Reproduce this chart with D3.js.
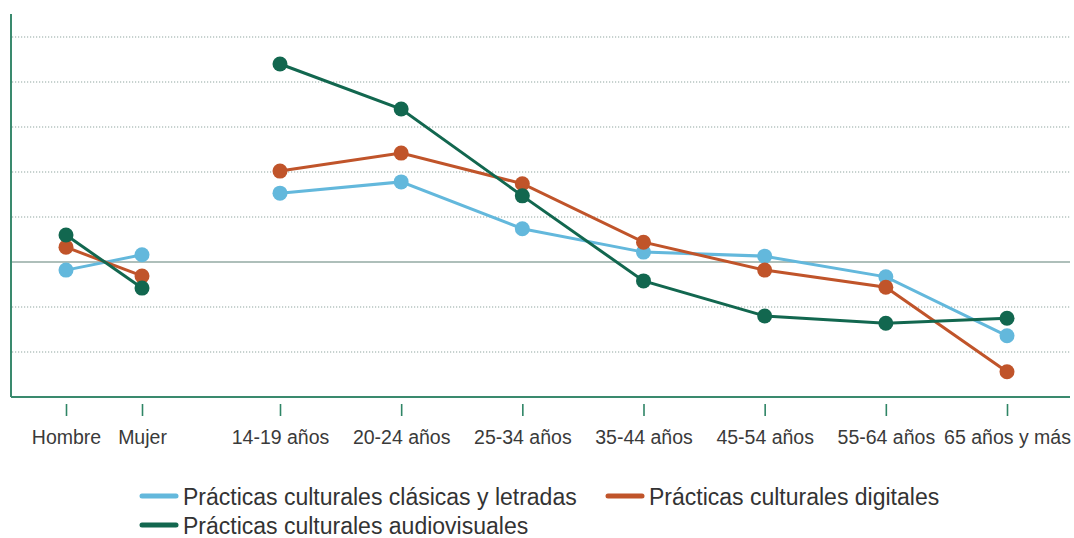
<!DOCTYPE html>
<html>
<head>
<meta charset="utf-8">
<script src="https://cdn.jsdelivr.net/npm/d3@7"></script>
<style>
  html, body { margin: 0; padding: 0; background: #fff; }
  svg { display: block; font-family: "Liberation Sans", Arial, Helvetica, sans-serif; }
</style>
</head>
<body>
<svg id="chart" width="1074" height="538"></svg>
<script>
// Categories: two by sex, seven age groups
const sexCategories = ["Hombre", "Mujer"];
const ageCategories = ["14-19 años", "20-24 años", "25-34 años", "35-44 años", "45-54 años", "55-64 años", "65 años y más"];
const categories = sexCategories.concat(ageCategories);

// Index values relative to the mean (0 = average), one per category
const clasicas      = [-0.18,  0.16, 1.53, 1.78, 0.74,  0.22,  0.13, -0.33, -1.64];
const digitales     = [ 0.33, -0.31, 2.02, 2.42, 1.74,  0.44, -0.18, -0.56, -2.44];
const audiovisuales = [ 0.60, -0.58, 4.40, 3.40, 1.47, -0.42, -1.20, -1.36, -1.25];

const seriesNames = [
  "Prácticas culturales clásicas y letradas",
  "Prácticas culturales digitales",
  "Prácticas culturales audiovisuales"
];
const seriesColors = ["#63b8dc", "#c0542a", "#12674f"];

const gridValues = [-2, -1, 1, 2, 3, 4, 5];

const series = [clasicas, digitales, audiovisuales].map((vals, i) => ({
  name: seriesNames[i],
  color: seriesColors[i],
  points: vals.map((v, j) => ({ cat: categories[j], v, group: j < sexCategories.length ? "sex" : "age" }))
}));

const svg = d3.select("#chart");
const plotLeft = 11, plotRight = 1070, plotTop = 14, plotBottom = 397;

// Horizontal placement: sex and age groups each spread on their own point scale
const xSex = d3.scalePoint().domain(sexCategories).range([66, 142]);
const xAge = d3.scalePoint().domain(ageCategories).range([280, 1007]);
const x = d3.scaleOrdinal()
  .domain(categories)
  .range(categories.map(c => sexCategories.includes(c) ? xSex(c) : xAge(c)));

const y = d3.scaleLinear().domain([-3, 5.511]).range([plotBottom, plotTop]);

// Dotted gridlines
svg.append("g").selectAll("line").data(gridValues).join("line")
  .attr("x1", plotLeft + 1).attr("x2", plotRight)
  .attr("y1", d => y(d)).attr("y2", d => y(d))
  .attr("stroke", "#8fa59f").attr("stroke-width", 1.2)
  .attr("stroke-dasharray", "1.2,1.8");

// Zero reference line
svg.append("line")
  .attr("x1", plotLeft + 1).attr("x2", plotRight)
  .attr("y1", y(0)).attr("y2", y(0))
  .attr("stroke", "#93aaa3").attr("stroke-width", 1.6);

// Frame: left and bottom axis lines
svg.append("line")
  .attr("x1", plotLeft).attr("x2", plotLeft).attr("y1", plotTop).attr("y2", plotBottom)
  .attr("stroke", "#3a8a6e").attr("stroke-width", 2);
svg.append("line")
  .attr("x1", plotLeft).attr("x2", plotRight).attr("y1", plotBottom).attr("y2", plotBottom)
  .attr("stroke", "#3a8a6e").attr("stroke-width", 2);

// Category axis with detached tick marks
const xAxis = d3.axisBottom(x).tickSize(12).tickPadding(14);
const gx = svg.append("g").attr("transform", `translate(0,${plotBottom + 7})`).call(xAxis);
gx.select(".domain").remove();
gx.selectAll(".tick line").attr("stroke", "#2f8566").attr("stroke-width", 1.6);
gx.selectAll(".tick text")
  .attr("fill", "#3a3a3a")
  .style("font-size", "19.5px")
  .style("font-family", "\"Liberation Sans\", Arial, sans-serif");

// Lines: sex and age groups are drawn as separate segments
const line = d3.line().x(d => x(d.cat)).y(d => y(d.v));
const gSeries = svg.append("g");
series.forEach(s => {
  ["sex", "age"].forEach(g => {
    gSeries.append("path")
      .datum(s.points.filter(p => p.group === g))
      .attr("d", line)
      .attr("fill", "none")
      .attr("stroke", s.color)
      .attr("stroke-width", 3);
  });
});
series.forEach(s => {
  gSeries.append("g").selectAll("circle").data(s.points).join("circle")
    .attr("cx", d => x(d.cat)).attr("cy", d => y(d.v))
    .attr("r", 7.5).attr("fill", s.color);
});

// Legend
const legendPos = [
  { x: 140, y: 496 },
  { x: 606, y: 496 },
  { x: 140, y: 525 }
];
const legend = svg.append("g").selectAll("g").data(series).join("g")
  .attr("transform", (d, i) => `translate(${legendPos[i].x},${legendPos[i].y})`);
legend.append("line")
  .attr("x1", 2).attr("x2", 36).attr("y1", 0).attr("y2", 0)
  .attr("stroke", d => d.color).attr("stroke-width", 5).attr("stroke-linecap", "round");
legend.append("text")
  .attr("x", 43).attr("y", 8.5)
  .attr("fill", "#333")
  .style("font-size", "23px")
  .text(d => d.name);
</script>
</body>
</html>
